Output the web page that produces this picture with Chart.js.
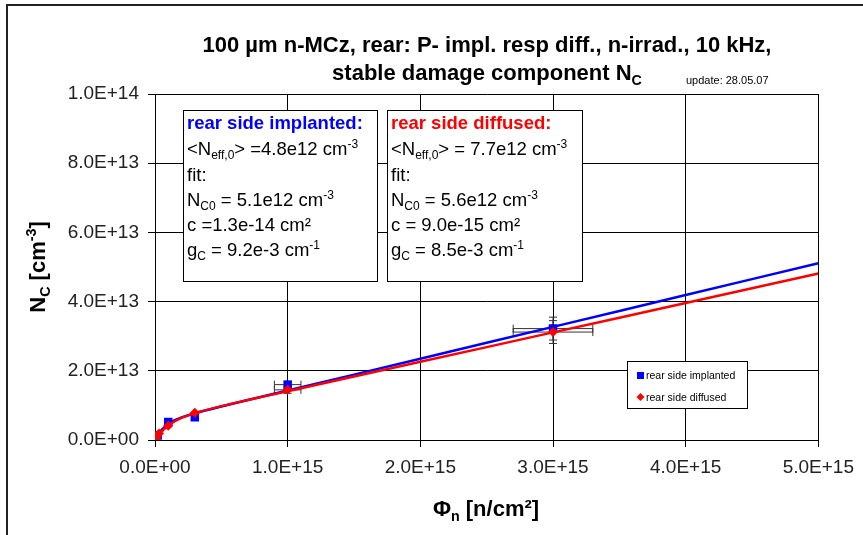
<!DOCTYPE html>
<html>
<head>
<meta charset="utf-8">
<script src="https://cdn.jsdelivr.net/npm/chart.js@4/dist/chart.umd.min.js"></script>
<style>
  html, body { margin: 0; padding: 0; background: #fff; overflow: hidden; }
  #nc { display: block; }
</style>
</head>
<body>
<canvas id="nc" width="863" height="535"></canvas>
<script>
"use strict";

// fluence samples for the fit curves [n/cm2]
var fitFluence = [0, 1e13, 2.5e13, 5e13, 1e14, 1.5e14, 2e14, 3e14, 5e14, 7e14, 1e15, 2e15, 3e15, 4e15, 5e15];
// fit curves [cm-3]
var implFit = [0, 0.7e12, 1.65e12, 2.9e12, 4.6e12, 5.75e12, 6.55e12, 7.75e12, 9.7e12, 11.55e12, 1.43e13, 2.35e13, 3.27e13, 4.19e13, 5.11e13];
var diffFit = [0, 0.57e12, 1.34e12, 2.45e12, 4.17e12, 5.42e12, 6.38e12, 7.77e12, 9.79e12, 11.54e12, 1.41e13, 2.26e13, 3.11e13, 3.96e13, 4.81e13];

// measured points
var implFluence = [5e12, 2e13, 1e14, 3e14, 1e15, 3e15];
var implNc = [0.3e12, 1.3e12, 5.2e12, 6.6e12, 1.6e13, 3.22e13];
var implErrX = [0, 0, 0, 0, 1e14, 3e14];
var implErrY = [0, 0, 0, 0, 1e12, 3.3e12];

var diffFluence = [2e12, 1e13, 3e13, 1e14, 3e14, 1e15, 3e15];
var diffNc = [0.2e12, 0.6e12, 1.9e12, 4.1e12, 7.9e12, 1.45e13, 3.12e13];
var diffErrX = [0, 0, 0, 0, 0, 1e14, 3e14];
var diffErrY = [0, 0, 0, 0, 0, 1e12, 3.3e12];

var xTicks = [0, 1e15, 2e15, 3e15, 4e15, 5e15];
var yTicks = [0, 2e13, 4e13, 6e13, 8e13, 1e14];

var BLUE = "#0000ff";
var RED = "#ff0000";
var FONT = "'Liberation Sans', Arial, sans-serif";

function pts(xs, ys) {
  return xs.map(function (x, i) {
    return { x: x, y: ys[i] };
  });
}

function fmtE(v) {
  var s = Number(v).toExponential(1).toUpperCase();
  return s.replace(/E([+-])(\d)$/, "E$10$2");
}

// draw text made of parts with sub/superscripts
function richWidth(ctx, parts, size, weight) {
  var w = 0;
  parts.forEach(function (p) {
    var s = p.s || p.u ? size * 0.65 : size;
    ctx.font = weight + " " + s + "px " + FONT;
    w += ctx.measureText(p.t).width;
  });
  return w;
}

function drawRich(ctx, parts, x, y, size, weight, color, align) {
  var w = richWidth(ctx, parts, size, weight);
  var cx = align === "center" ? x - w / 2 : x;
  ctx.fillStyle = color;
  ctx.textBaseline = "alphabetic";
  ctx.textAlign = "left";
  parts.forEach(function (p) {
    var s = size, dy = 0;
    if (p.s) { s = size * 0.65; dy = size * 0.22; }
    if (p.u) { s = size * 0.65; dy = -size * 0.4; }
    ctx.font = weight + " " + s + "px " + FONT;
    ctx.fillText(p.t, cx, y + dy);
    cx += ctx.measureText(p.t).width;
  });
}

var boxes = [
  {
    left: 183, top: 110, width: 194, height: 171,
    lines: [
      [{ t: "rear side implanted:" }],
      [{ t: "<N" }, { t: "eff,0", s: 1 }, { t: "> =4.8e12 cm" }, { t: "-3", u: 1 }],
      [{ t: "fit:" }],
      [{ t: "N" }, { t: "C0", s: 1 }, { t: " = 5.1e12 cm" }, { t: "-3", u: 1 }],
      [{ t: "c =1.3e-14 cm\u00b2" }],
      [{ t: "g" }, { t: "C", s: 1 }, { t: " = 9.2e-3 cm" }, { t: "-1", u: 1 }]
    ],
    color: BLUE
  },
  {
    left: 387, top: 110, width: 195, height: 171,
    lines: [
      [{ t: "rear side diffused:" }],
      [{ t: "<N" }, { t: "eff,0", s: 1 }, { t: "> = 7.7e12 cm" }, { t: "-3", u: 1 }],
      [{ t: "fit:" }],
      [{ t: "N" }, { t: "C0", s: 1 }, { t: " = 5.6e12 cm" }, { t: "-3", u: 1 }],
      [{ t: "c = 9.0e-15 cm\u00b2" }],
      [{ t: "g" }, { t: "C", s: 1 }, { t: " = 8.5e-3 cm" }, { t: "-1", u: 1 }]
    ],
    color: RED
  }
];

var errorBars = {
  id: "errorBars",
  beforeDatasetsDraw: function (chart) {
    var ctx = chart.ctx, xs = chart.scales.x, ys = chart.scales.y;
    var sets = [
      [implFluence, implNc, implErrX, implErrY],
      [diffFluence, diffNc, diffErrX, diffErrY]
    ];
    ctx.save();
    ctx.strokeStyle = "#333";
    ctx.lineWidth = 1;
    sets.forEach(function (s) {
      s[0].forEach(function (fx, i) {
        var px = xs.getPixelForValue(fx), py = ys.getPixelForValue(s[1][i]);
        ctx.beginPath();
        if (s[2][i]) {
          var x1 = xs.getPixelForValue(fx - s[2][i]), x2 = xs.getPixelForValue(fx + s[2][i]);
          ctx.moveTo(x1, py); ctx.lineTo(x2, py);
          ctx.moveTo(x1, py - 4); ctx.lineTo(x1, py + 4);
          ctx.moveTo(x2, py - 4); ctx.lineTo(x2, py + 4);
        }
        if (s[3][i]) {
          var y1 = ys.getPixelForValue(s[1][i] - s[3][i]), y2 = ys.getPixelForValue(s[1][i] + s[3][i]);
          ctx.moveTo(px, y1); ctx.lineTo(px, y2);
          ctx.moveTo(px - 4, y1); ctx.lineTo(px + 4, y1);
          ctx.moveTo(px - 4, y2); ctx.lineTo(px + 4, y2);
        }
        ctx.stroke();
      });
    });
    ctx.restore();
  }
};

var decorations = {
  id: "decorations",
  afterDraw: function (chart) {
    var ctx = chart.ctx;
    ctx.save();

    // outer frame (top and left only)
    ctx.strokeStyle = "#222";
    ctx.lineWidth = 2;
    ctx.beginPath();
    ctx.moveTo(7, 535); ctx.lineTo(7, 5); ctx.lineTo(863, 5);
    ctx.stroke();

    // title
    drawRich(ctx, [{ t: "100 \u00b5m n-MCz, rear: P- impl. resp diff., n-irrad., 10 kHz," }], 487, 52, 22, "bold", "#000", "center");
    drawRich(ctx, [{ t: "stable damage component N" }, { t: "C", s: 1 }], 487, 80, 22, "bold", "#000", "center");
    drawRich(ctx, [{ t: "update: 28.05.07" }], 686, 84, 11, "normal", "#000", "left");

    // axis titles
    drawRich(ctx, [{ t: "\u03a6" }, { t: "n", s: 1 }, { t: " [n/cm\u00b2]" }], 486, 516, 22, "bold", "#000", "center");
    ctx.save();
    ctx.translate(45, 267);
    ctx.rotate(-Math.PI / 2);
    drawRich(ctx, [{ t: "N" }, { t: "C", s: 1 }, { t: " [cm" }, { t: "-3", u: 1 }, { t: "]" }], 0, 0, 22, "bold", "#000", "center");
    ctx.restore();

    // parameter boxes
    boxes.forEach(function (b) {
      ctx.fillStyle = "#fff";
      ctx.fillRect(b.left, b.top, b.width, b.height);
      ctx.strokeStyle = "#000";
      ctx.lineWidth = 1;
      ctx.strokeRect(b.left + 0.5, b.top + 0.5, b.width, b.height);
      var ly = [129, 155, 181, 206, 231, 256];
      b.lines.forEach(function (ln, i) {
        drawRich(ctx, ln, b.left + 4, b.top + ly[i] - 110, 18.5, i === 0 ? "bold" : "normal", i === 0 ? b.color : "#000", "left");
      });
    });

    // legend
    var lx = 627, lt = 361;
    ctx.fillStyle = "#fff";
    ctx.fillRect(lx, lt, 120, 47);
    ctx.strokeStyle = "#000";
    ctx.lineWidth = 1;
    ctx.strokeRect(lx + 0.5, lt + 0.5, 120, 47);
    ctx.fillStyle = BLUE;
    ctx.fillRect(lx + 10, lt + 11, 7, 7);
    ctx.fillStyle = RED;
    ctx.beginPath();
    ctx.moveTo(lx + 13.5, lt + 32); ctx.lineTo(lx + 17.5, lt + 36);
    ctx.lineTo(lx + 13.5, lt + 40); ctx.lineTo(lx + 9.5, lt + 36);
    ctx.closePath(); ctx.fill();
    drawRich(ctx, [{ t: "rear side implanted" }], lx + 19, lt + 18, 10.5, "normal", "#000", "left");
    drawRich(ctx, [{ t: "rear side diffused" }], lx + 19, lt + 40, 10.5, "normal", "#000", "left");

    ctx.restore();
  }
};

new Chart(document.getElementById("nc"), {
  type: "scatter",
  data: {
    datasets: [
      {
        label: "rear side implanted",
        data: pts(implFluence, implNc),
        pointStyle: "rect",
        pointRadius: 6,
        backgroundColor: BLUE,
        borderColor: BLUE,
        borderWidth: 0,
        order: 3
      },
      {
        label: "rear side diffused",
        data: pts(diffFluence, diffNc),
        pointStyle: "rectRot",
        pointRadius: 5,
        backgroundColor: RED,
        borderColor: RED,
        borderWidth: 0,
        order: 1
      },
      {
        label: "fit implanted",
        data: pts(fitFluence, implFit),
        showLine: true,
        pointRadius: 0,
        borderColor: BLUE,
        borderWidth: 2.5,
        tension: 0.3,
        order: 4
      },
      {
        label: "fit diffused",
        data: pts(fitFluence, diffFit),
        showLine: true,
        pointRadius: 0,
        borderColor: RED,
        borderWidth: 2.5,
        tension: 0.3,
        order: 2
      }
    ]
  },
  options: {
    responsive: false,
    animation: false,
    devicePixelRatio: 1,
    layout: { padding: { left: 0, top: 94, right: 42, bottom: 0 } },
    plugins: {
      legend: { display: false },
      tooltip: { enabled: false },
      title: { display: false }
    },
    scales: {
      x: {
        type: "linear",
        min: 0,
        max: 5e15,
        afterFit: function (s) { s.height = 95; },
        afterBuildTicks: function (s) {
          s.ticks = xTicks.map(function (v) { return { value: v }; });
        },
        ticks: {
          color: "#222",
          padding: 9,
          maxRotation: 0,
          font: { family: FONT, size: 19 },
          callback: fmtE
        },
        grid: { color: "#000", lineWidth: 1, tickLength: 7 },
        border: { color: "#000", width: 1 }
      },
      y: {
        type: "linear",
        min: 0,
        max: 1e14,
        afterFit: function (s) { s.width = 155; },
        afterBuildTicks: function (s) {
          s.ticks = yTicks.map(function (v) { return { value: v }; });
        },
        ticks: {
          color: "#222",
          padding: 9,
          font: { family: FONT, size: 19 },
          callback: fmtE
        },
        grid: { color: "#000", lineWidth: 1, tickLength: 7 },
        border: { color: "#000", width: 1 }
      }
    }
  },
  plugins: [errorBars, decorations]
});
</script>
</body>
</html>
